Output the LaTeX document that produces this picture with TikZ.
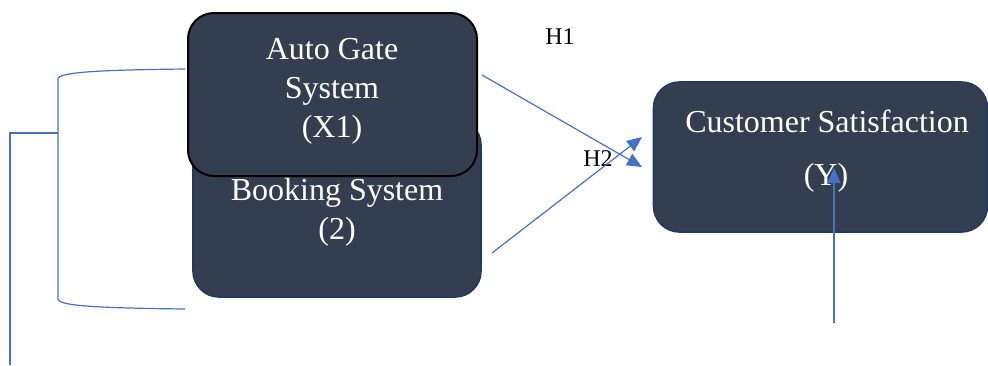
\documentclass[tikz,border=0pt]{standalone}
\usepackage{fontspec}
\setmainfont{Liberation Serif}
\usetikzlibrary{arrows.meta}
\definecolor{boxfill}{HTML}{333F50}
\definecolor{boxedge}{HTML}{1F3864}
\definecolor{linkblue}{HTML}{4472C4}
\begin{document}
\begin{tikzpicture}[x=1pt,y=-1pt,
  varbox/.style={draw=boxedge, line width=1.6pt, fill=boxfill, rounded corners=26pt, inner sep=0pt},
  boxtext/.style={text=white, align=center, font=\fontsize{32}{39}\selectfont, inner sep=0pt},
  hyp/.style={text=black, font=\fontsize{24}{28}\selectfont, inner sep=0pt},
  link/.style={draw=linkblue, line width=1.2pt},
  tip/.style={-{Triangle[length=15pt,width=13pt]}}]
\useasboundingbox (0,0) rectangle (988,365);

% variable boxes
\node[varbox, minimum width=288pt, minimum height=178pt] (book) at (337,208) {};
\node[varbox, draw=black, line width=2pt, minimum width=289pt, minimum height=163pt] (gate) at (332.5,94.5) {};
\node[varbox, minimum width=334pt, minimum height=150pt] (cs) at (820.5,157) {};

% box captions
\node[boxtext] (gatetxt) at (332,91) {Auto Gate\\System\\(X1)};
\node[boxtext] (booktxt) at (337,212) {Booking System\\(2)};
\node[boxtext] (cstxt1) at (827,121) {Customer Satisfaction};
\node[boxtext] (cstxt2) at (826,178) {(Y)};

% hypothesis labels
\node[hyp] (h1) at (560,37) {H1};
\node[hyp] (h2) at (598,159) {H2};

% hypothesis paths
\coordinate (g1) at (482,75);
\coordinate (b1) at (492,253);
\coordinate (t1) at (642,167);
\coordinate (t2) at (642,137);
\draw[link, tip] (g1) -- (t1);
\draw[link, tip] (b1) -- (t2);

% arrow into Y from below
\coordinate (ybase) at (834,323);
\coordinate (ytip) at (834,168);
\draw[link, tip] (ybase) -- (ytip);

% bracket joining both independent variables
\coordinate (bt) at (185,69);
\coordinate (bb) at (185,309);
\coordinate (bj) at (58,133);
\coordinate (bo) at (10,133);
\coordinate (bend) at (10,365);
\draw[link] (bt) .. controls (100,70) and (58,72) .. (58,79) -- (58,299)
  .. controls (58,306) and (100,308) .. (bb);
\draw[link] (bj) -- (bo) -- (bend);
\end{tikzpicture}
\end{document}
